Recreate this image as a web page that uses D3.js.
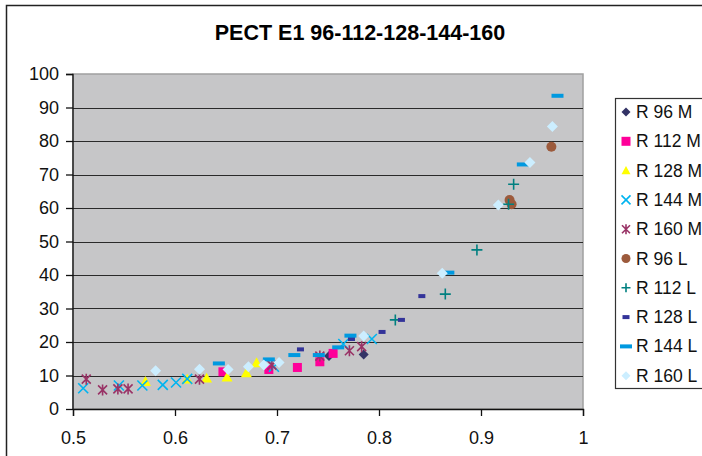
<!DOCTYPE html>
<html>
<head>
<meta charset="utf-8">
<script src="https://cdn.jsdelivr.net/npm/d3@7"></script>
<style>
  body { margin: 0; background: #fff; }
  svg { display: block; font-family: "Liberation Sans", Arial, sans-serif; }
</style>
</head>
<body>
<div id="chart"></div>
<script>
// series names, in legend order
const seriesNames = ["R 96 M", "R 112 M", "R 128 M", "R 144 M", "R 160 M",
                     "R 96 L", "R 112 L", "R 128 L", "R 144 L", "R 160 L"];

// values: [x, y]
const r96M  = [[0.751, 15.8], [0.785, 16.3]];
const r112M = [[0.647, 11.1], [0.692, 11.8], [0.720, 12.4], [0.742, 14.1], [0.755, 16.6]];
const r128M = [[0.571, 8.2], [0.612, 8.9], [0.631, 9.2], [0.651, 9.5], [0.670, 10.8], [0.680, 13.8]];
const r144M = [[0.510, 6.2], [0.545, 7.0], [0.568, 7.0], [0.588, 7.2], [0.601, 7.9], [0.612, 9.0],
               [0.697, 12.6], [0.765, 19.4], [0.793, 20.9]];
const r160M = [[0.513, 8.9], [0.529, 5.7], [0.544, 6.0], [0.554, 6.0], [0.624, 8.9], [0.695, 13.1],
               [0.742, 15.8], [0.771, 17.4], [0.783, 18.6]];
const r96L  = [[0.928, 62.4], [0.930, 61.1], [0.969, 78.3]];
const r112L = [[0.816, 26.6], [0.865, 34.3], [0.896, 47.5], [0.927, 61.1], [0.932, 67.1]];
const r128L = [[0.723, 17.8], [0.773, 20.9], [0.803, 23.0], [0.822, 26.6], [0.842, 33.7]];
const r144L = [[0.643, 13.6], [0.692, 14.8], [0.717, 16.1], [0.741, 16.1], [0.760, 18.4],
               [0.772, 21.9], [0.868, 40.7], [0.941, 73.0], [0.975, 93.5]];
const r160L = [[0.581, 11.4], [0.624, 11.9], [0.652, 11.8], [0.672, 12.6], [0.687, 13.1],
               [0.702, 13.9], [0.785, 21.8], [0.862, 40.5], [0.917, 60.9], [0.948, 73.6], [0.970, 84.3]];

const xTicks = [0.5, 0.6, 0.7, 0.8, 0.9, 1];
const yTicks = [0, 10, 20, 30, 40, 50, 60, 70, 80, 90, 100];

const allSeries = [r96M, r112M, r128M, r144M, r160M, r96L, r112L, r128L, r144L, r160L];

// marker style per series
const styles = [
  { type: "diamond",  color: "#333366", size: 10 },
  { type: "square",   color: "#ff0099", size: 9 },
  { type: "triangle", color: "#ffff00", size: 11 },
  { type: "times",    color: "#00b4f0", size: 10 },
  { type: "asterisk", color: "#993366", size: 10 },
  { type: "circle",   color: "#9c5a3c", size: 10 },
  { type: "plus",     color: "#008080", size: 11 },
  { type: "dash",     color: "#333399", w: 7,  h: 4 },
  { type: "dash",     color: "#0099e0", w: 12, h: 4 },
  { type: "diamond",  color: "#cceeff", size: 11 }
];

const W = 702, H = 456;
const margin = { left: 73, top: 74, right: 583, bottom: 409 };

const svg = d3.select("#chart").append("svg")
  .attr("width", W).attr("height", H);

// outer chart border
svg.append("rect")
  .attr("x", 6.5).attr("y", 5.5).attr("width", W + 10).attr("height", H + 10)
  .attr("fill", "#fff").attr("stroke", "#222").attr("stroke-width", 1.5);

svg.append("text")
  .attr("x", 360).attr("y", 40)
  .attr("text-anchor", "middle")
  .attr("font-size", 21.5).attr("font-weight", "bold")
  .text("PECT E1 96-112-128-144-160");

const x = d3.scaleLinear().domain([0.5, 1]).range([margin.left, margin.right]);
const y = d3.scaleLinear().domain([0, 100]).range([margin.bottom, margin.top]);

// plot area
svg.append("rect")
  .attr("x", margin.left).attr("y", margin.top)
  .attr("width", margin.right - margin.left).attr("height", margin.bottom - margin.top)
  .attr("fill", "#c6c6c8").attr("stroke", "#a0a0a0").attr("stroke-width", 1.5);

// gridlines
svg.append("g").selectAll("line")
  .data(yTicks.filter(d => d > 0 && d < 100))
  .join("line")
  .attr("x1", margin.left).attr("x2", margin.right)
  .attr("y1", d => Math.round(y(d)) + 0.5).attr("y2", d => Math.round(y(d)) + 0.5)
  .attr("stroke", "#2a2a2a").attr("stroke-width", 1);

// axes
const yAxis = svg.append("g")
  .attr("transform", `translate(${margin.left},0)`)
  .call(d3.axisLeft(y).tickValues(yTicks).tickSize(7).tickPadding(7).tickFormat(d3.format("d")));
const xAxis = svg.append("g")
  .attr("transform", `translate(0,${margin.bottom})`)
  .call(d3.axisBottom(x).tickValues(xTicks).tickSize(7).tickPadding(15).tickFormat(d => String(d)));

[yAxis, xAxis].forEach(g => {
  g.select(".domain").attr("stroke", "#111").attr("stroke-width", 1.3);
  g.selectAll(".tick line").attr("stroke", "#111").attr("stroke-width", 1.3);
  g.selectAll(".tick text")
    .attr("font-size", 18).attr("fill", "#111")
    .attr("font-family", "'Liberation Sans', Arial, sans-serif");
});
yAxis.select(".domain").attr("d", `M-7,${margin.top + 0.5}H0V${margin.bottom}`);

function drawMarker(g, st) {
  const s = st.size;
  if (st.type === "dash") {
    g.append("rect").attr("x", -st.w / 2).attr("y", -st.h / 2)
      .attr("width", st.w).attr("height", st.h).attr("fill", st.color);
  } else if (st.type === "times") {
    const h = s / 2;
    g.append("path").attr("d", `M${-h},${-h}L${h},${h}M${-h},${h}L${h},${-h}`)
      .attr("stroke", st.color).attr("stroke-width", 1.6).attr("fill", "none");
  } else if (st.type === "asterisk") {
    const h = s / 2 - 0.5;
    g.append("path").attr("d", `M${-h},${-h}L${h},${h}M${-h},${h}L${h},${-h}M0,${-h - 1}V${h + 1}`)
      .attr("stroke", st.color).attr("stroke-width", 1.6).attr("fill", "none");
  } else if (st.type === "plus") {
    const h = s / 2;
    g.append("path").attr("d", `M${-h},0H${h}M0,${-h}V${h}`)
      .attr("stroke", st.color).attr("stroke-width", 1.6).attr("fill", "none");
  } else if (st.type === "diamond") {
    const h = s / 2;
    g.append("path").attr("d", `M0,${-h}L${h},0L0,${h}L${-h},0Z`).attr("fill", st.color);
  } else if (st.type === "square") {
    g.append("rect").attr("x", -s / 2).attr("y", -s / 2).attr("width", s).attr("height", s)
      .attr("fill", st.color);
  } else if (st.type === "triangle") {
    const h = s / 2;
    g.append("path").attr("d", `M0,${-h}L${h},${h * 0.8}L${-h},${h * 0.8}Z`).attr("fill", st.color);
  } else if (st.type === "circle") {
    g.append("circle").attr("r", s / 2).attr("fill", st.color);
  }
}

// points
allSeries.forEach((data, i) => {
  const grp = svg.append("g").attr("class", "series-" + i);
  data.forEach(d => {
    const m = grp.append("g").attr("transform", `translate(${x(d[0])},${y(d[1])})`);
    drawMarker(m, styles[i]);
  });
});

// legend
const legend = svg.append("g");
legend.append("rect")
  .attr("x", 615.5).attr("y", 98.5).attr("width", 120).attr("height", 290)
  .attr("fill", "#fff").attr("stroke", "#333").attr("stroke-width", 1.2);

seriesNames.forEach((name, i) => {
  const ly = 112 + i * 29.3;
  const st = Object.assign({}, styles[i]);
  if (st.size) st.size = Math.min(st.size, 9);
  const m = legend.append("g").attr("transform", `translate(626,${ly})`);
  drawMarker(m, st);
  legend.append("text")
    .attr("x", 636).attr("y", ly + 6)
    .attr("font-size", 17.5).attr("fill", "#111")
    .text(name);
});
</script>
</body>
</html>
